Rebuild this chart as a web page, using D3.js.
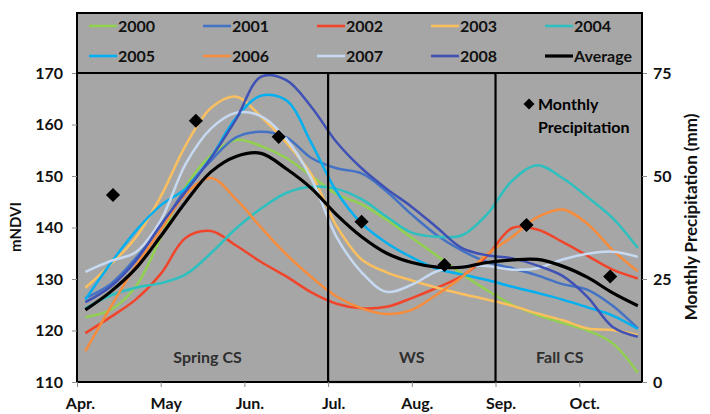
<!DOCTYPE html>
<html>
<head>
<meta charset="utf-8">
<script src="https://cdn.jsdelivr.net/npm/d3@7"></script>
<style>
body { margin: 0; background: #fff; }
text { font-family: Lato, "Open Sans", sans-serif; font-weight: bold; }
</style>
</head>
<body>
<div id="content"></div>
<script>
// months on the x axis (0 = start of April)
var months = ["Apr.", "May", "Jun.", "Jul.", "Aug.", "Sep.", "Oct."];
var monthTicks = [0, 1, 2, 3, 4, 5, 6];

// sample times, in months from April 1st
var t = [0.1, 0.4, 0.7, 1.0, 1.3, 1.6, 1.9, 2.2, 2.5, 2.8, 3.1, 3.4,
         3.7, 4.0, 4.3, 4.6, 4.9, 5.2, 5.5, 5.8, 6.1, 6.4, 6.7];

// mNDVI per year
var s2000 = [122.6, 124.0, 128.5, 138.0, 148.0, 154.0, 157.0, 155.8, 153.5, 150.0, 146.5, 144.5,
             141.5, 138.0, 134.5, 131.0, 127.8, 125.0, 123.0, 121.5, 120.0, 117.5, 111.8];
var s2001 = [126.3, 129.0, 134.0, 140.0, 147.5, 153.0, 157.5, 158.6, 157.5, 153.5, 151.5, 150.5,
             147.0, 142.5, 138.5, 135.5, 133.3, 132.1, 130.7, 129.0, 127.9, 124.8, 120.4];
var s2002 = [119.5, 122.6, 126.0, 131.0, 138.0, 139.3, 136.5, 133.3, 130.5, 127.4, 125.2, 124.3,
             124.6, 126.3, 128.3, 130.6, 134.5, 139.9, 139.6, 137.2, 134.5, 131.8, 130.1];
var s2003 = [128.3, 132.8, 138.0, 146.0, 156.0, 163.2, 165.4, 161.5, 156.5, 150.3, 140.3, 133.8,
             131.3, 129.7, 128.3, 127.1, 126.0, 124.8, 123.3, 122.0, 120.4, 120.1, 119.1];
var s2004 = [124.3, 126.8, 128.3, 129.2, 130.9, 135.0, 139.8, 143.7, 146.7, 147.9, 147.5, 145.5,
             142.1, 139.0, 138.2, 138.5, 142.6, 149.1, 152.1, 149.6, 145.9, 141.8, 136.0];
var s2005 = [126.0, 133.0, 139.3, 144.3, 147.6, 153.6, 161.3, 165.6, 164.7, 156.4, 147.0, 140.8,
             137.0, 134.2, 132.0, 130.9, 129.8, 128.5, 127.3, 126.0, 124.5, 122.9, 120.3];
var s2006 = [116.0, 124.5, 132.5, 139.5, 146.5, 149.6, 145.5, 140.0, 134.8, 130.4, 126.6, 124.3,
             123.2, 124.0, 127.0, 130.4, 134.8, 138.2, 142.0, 143.5, 140.7, 135.6, 131.5];
var s2007 = [131.4, 133.5, 135.2, 141.4, 152.4, 159.2, 162.3, 161.6, 157.2, 149.5, 138.2, 131.3,
             127.5, 128.9, 131.5, 132.5, 132.5, 131.8, 132.1, 133.8, 134.9, 135.3, 134.3];
var s2008 = [125.5, 128.5, 133.5, 140.5, 147.0, 153.5, 161.0, 169.3, 168.6, 163.4, 156.6, 151.5,
             147.5, 144.0, 140.0, 136.0, 134.6, 134.0, 132.6, 130.6, 126.5, 120.7, 118.8];
var average = [124.0, 127.5, 132.0, 138.3, 145.0, 150.8, 153.8, 154.4, 151.4, 147.6, 142.5, 138.2,
               135.0, 133.2, 132.3, 132.3, 133.2, 133.7, 133.8, 132.5, 130.3, 127.3, 124.8];

var names = ["2000", "2001", "2002", "2003", "2004", "2005", "2006", "2007", "2008", "Average"];

// monthly precipitation (mm), secondary axis
var precipT = [0.43, 1.42, 2.41, 3.40, 4.39, 5.37, 6.37];
var precip = [45.4, 63.4, 59.5, 38.9, 28.4, 38.1, 25.6];

var ndviTicks = [110, 120, 130, 140, 150, 160, 170];
var precipTicks = [0, 25, 50, 75];

// seasons and their bounds in months
var seasons = ["Spring CS", "WS", "Fall CS"];
var seasonBounds = [0, 3, 5, 6.75];

var colours = ["#92d050", "#4472c4", "#f0452b", "#fac060", "#2ebfbf",
               "#00b0f0", "#f68c3c", "#c6d9f1", "#3f51b5", "#000000"];
var series = [s2000, s2001, s2002, s2003, s2004, s2005, s2006, s2007, s2008, average];

function render() {
    var width = 710, height = 414;
    var left = 77, right = 642, top = 73, bottom = 382;
    var grey = "#a6a6a6";
    var font_size = 16;

    var x = d3.scaleLinear().domain([0, 6.75]).range([left, right]);
    var y = d3.scaleLinear().domain([110, 170]).range([bottom, top]);
    var y2 = d3.scaleLinear().domain([0, 75]).range([bottom, top]);

    var chart = d3.select("#content")
      .append("svg")
      .attr("width", width)
      .attr("height", height);

    chart.append("defs").append("clipPath")
      .attr("id", "plot")
      .append("rect")
      .attr("x", left).attr("y", top)
      .attr("width", right - left).attr("height", bottom - top);

    chart.append("rect")
      .attr("x", left).attr("y", top)
      .attr("width", right - left).attr("height", bottom - top)
      .attr("fill", grey);

    // year lines, average last so it sits on top
    var line = d3.line()
      .x(function(d, i) { return x(t[i]); })
      .y(function(d) { return y(d); })
      .curve(d3.curveCatmullRom);

    var lines = chart.append("g").attr("clip-path", "url(#plot)");
    series.forEach(function(s, i) {
        lines.append("path")
          .attr("d", line(s))
          .attr("fill", "none")
          .attr("stroke", colours[i])
          .attr("stroke-width", i == 9 ? 3.2 : 2.5)
          .attr("stroke-linejoin", "round");
    });

    // season boxes
    chart.append("rect")
      .attr("x", x(seasonBounds[1])).attr("y", top)
      .attr("width", x(seasonBounds[2]) - x(seasonBounds[1]))
      .attr("height", bottom - top)
      .attr("fill", "none")
      .attr("stroke", "#000")
      .attr("stroke-width", 2.2);

    chart.append("rect")
      .attr("x", left).attr("y", top)
      .attr("width", right - left).attr("height", bottom - top)
      .attr("fill", "none")
      .attr("stroke", "#000")
      .attr("stroke-width", 2);

    seasons.forEach(function(name, i) {
        chart.append("text")
          .attr("x", x((seasonBounds[i] + seasonBounds[i + 1]) / 2) + (i == 0 ? 5 : (i == 2 ? -9 : 0)))
          .attr("y", 363)
          .attr("text-anchor", "middle")
          .attr("font-size", font_size + "px")
          .attr("fill", "#2e2e2e")
          .text(name);
    });

    // precipitation diamonds
    var diamond = d3.symbol().type(d3.symbolSquare).size(100);
    precip.forEach(function(p, i) {
        chart.append("path")
          .attr("d", diamond())
          .attr("transform", "translate(" + x(precipT[i]) + "," + y2(p) + ") rotate(45)")
          .attr("fill", "#000");
    });

    chart.append("path")
      .attr("d", d3.symbol().type(d3.symbolSquare).size(60)())
      .attr("transform", "translate(529,104) rotate(45)")
      .attr("fill", "#000");
    chart.append("text")
      .attr("x", 538).attr("y", 110)
      .attr("font-size", font_size + "px")
      .attr("fill", "#000")
      .text("Monthly");
    chart.append("text")
      .attr("x", 538).attr("y", 133)
      .attr("font-size", font_size + "px")
      .attr("fill", "#000")
      .text("Precipitation");

    // axes
    var yAxis = chart.append("g")
      .attr("transform", "translate(" + left + ",0)")
      .call(d3.axisLeft(y).tickValues(ndviTicks).tickSize(5).tickPadding(9));

    var y2Axis = chart.append("g")
      .attr("transform", "translate(" + right + ",0)")
      .call(d3.axisRight(y2).tickValues(precipTicks).tickSize(5).tickPadding(6));

    var xAxis = chart.append("g")
      .attr("transform", "translate(0," + bottom + ")")
      .call(d3.axisBottom(x).tickValues(monthTicks)
        .tickFormat(function(i) { return months[i]; })
        .tickSize(5).tickPadding(11));

    [yAxis, y2Axis, xAxis].forEach(function(a) {
        a.select(".domain").remove();
        a.selectAll(".tick line").attr("stroke", "#8c8c8c");
        a.selectAll(".tick text")
          .attr("font-size", font_size + "px")
          .attr("font-family", "Lato, sans-serif")
          .attr("fill", "#111");
    });
    xAxis.selectAll(".tick text")
      .attr("dx", function(d, i) { return i == 0 ? 3 : 5; });

    chart.append("text")
      .attr("transform", "translate(21,227) rotate(-90)")
      .attr("text-anchor", "middle")
      .attr("font-size", "15px")
      .attr("fill", "#111")
      .text("mNDVI");

    chart.append("text")
      .attr("transform", "translate(697,217) rotate(-90)")
      .attr("text-anchor", "middle")
      .attr("font-size", "17px")
      .attr("fill", "#111")
      .text("Monthly Precipitation (mm)");

    // legend box
    chart.append("rect")
      .attr("x", left).attr("y", 13)
      .attr("width", right - left).attr("height", top - 13)
      .attr("fill", grey)
      .attr("stroke", "#000")
      .attr("stroke-width", 2);

    names.forEach(function(n, i) {
        var col = i % 5, row = Math.floor(i / 5);
        var lx = 89 + col * 114;
        var ly = 26 + row * 30;
        chart.append("line")
          .attr("x1", lx).attr("x2", lx + 28)
          .attr("y1", ly).attr("y2", ly)
          .attr("stroke", colours[i])
          .attr("stroke-width", i == 9 ? 3.2 : 2.6);
        chart.append("text")
          .attr("x", lx + 29).attr("y", ly)
          .attr("dy", "0.35em")
          .attr("font-size", font_size + "px")
          .attr("fill", "#111")
          .text(n);
    });
}

render();
</script>
</body>
</html>
